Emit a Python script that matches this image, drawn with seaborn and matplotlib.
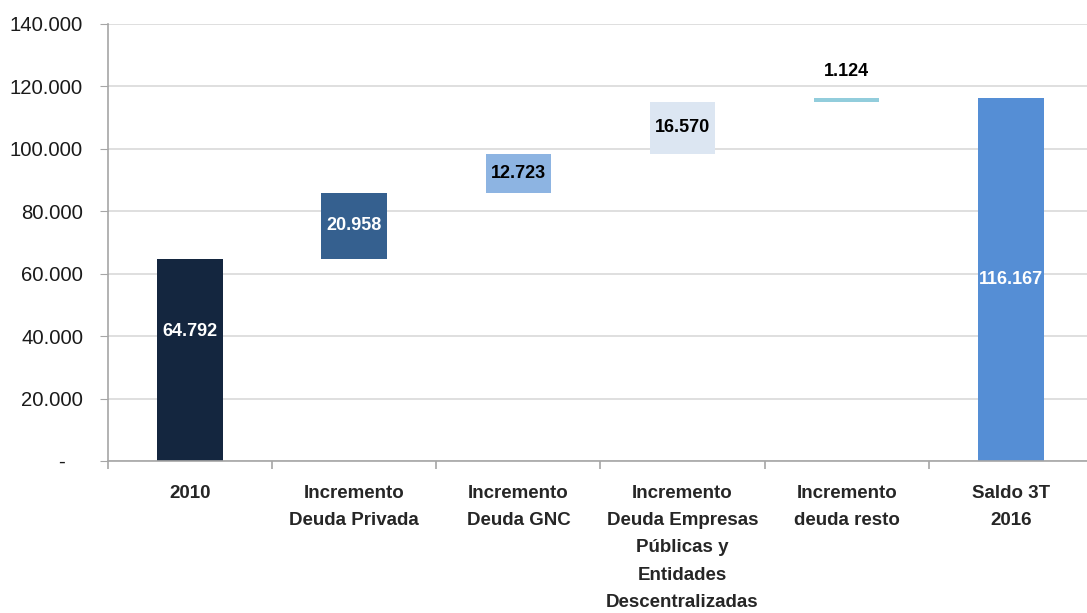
import matplotlib
matplotlib.use("Agg")
import matplotlib.pyplot as plt
import seaborn as sns
import numpy as np
from matplotlib.ticker import FuncFormatter, FixedLocator

# Data
categories = ["2010", "Incremento\nDeuda Privada", "Incremento\nDeuda GNC",
              "Incremento\nDeuda Empresas\nPúblicas y\nEntidades\nDescentralizadas",
              "Incremento\ndeuda resto", "Saldo 3T\n2016"]
values = [64792, 20958, 12723, 16570, 1124, 116167]
is_total = [True, False, False, False, False, True]
colors = ["#14263f", "#35608f", "#8db4e2", "#dce6f2", "#92cddc", "#558ed5"]
label_colors = ["white", "white", "black", "black", "black", "white"]

# Waterfall bottoms
bottoms = []
running = 0
for v, tot in zip(values, is_total):
    if tot:
        bottoms.append(0)
        running = v
    else:
        bottoms.append(running)
        running += v

sns.set_style("white")
plt.rcParams['font.family'] = ['Liberation Sans', 'DejaVu Sans']

fig = plt.figure(figsize=(10.87, 6.13), dpi=100)
ax = fig.add_axes([0.0994, 0.248, 0.906, 0.713])

sns.barplot(x=categories, y=values, hue=categories, palette=colors,
            width=0.4, legend=False, ax=ax, linewidth=0, saturation=1)

# shift the increment bars up to their running base
for cont, b in zip(ax.containers, bottoms):
    for bar in cont:
        bar.set_y(b)

# value labels
def fmt(v):
    return f"{v:,.0f}".replace(",", ".")

for i, (v, b) in enumerate(zip(values, bottoms)):
    if i == 0:
        ax.text(i, b + v * 0.64, fmt(v), ha="center", va="center",
                color=label_colors[i], fontsize=13, fontweight="bold")
    elif v < 5000:
        ax.annotate(fmt(v), (i, b + v), xytext=(0, 19), textcoords="offset points",
                    ha="center", va="center", color=label_colors[i],
                    fontsize=13, fontweight="bold")
    else:
        ax.text(i, b + v / 2, fmt(v), ha="center", va="center",
                color=label_colors[i], fontsize=13, fontweight="bold")

# axes
ax.set_ylim(0, 140000)
ax.set_xlim(-0.5, len(categories) - 0.5)
ax.set_yticks(np.arange(0, 140001, 20000))
ax.yaxis.set_major_formatter(FuncFormatter(lambda y, p: "-   " if y == 0 else fmt(y)))
ax.grid(axis="y", color="#d9d9d9", linewidth=1.2)
ax.set_axisbelow(True)

for s in ["top", "right"]:
    ax.spines[s].set_visible(False)
for s in ["left", "bottom"]:
    ax.spines[s].set_color("#a6a6a6")
    ax.spines[s].set_linewidth(1.2)

ax.tick_params(axis="y", which="major", left=True, length=6, color="#a6a6a6",
               labelsize=14.6, pad=12, labelcolor="#1a1a1a")
ax.set_xticks(range(len(categories)))
ax.set_xticklabels(categories, fontweight="bold", linespacing=1.8, va="top")
ax.tick_params(axis="x", which="major", length=0, pad=17, labelsize=13.5)
ax.xaxis.set_minor_locator(FixedLocator(np.arange(-0.5, len(categories), 1)))
ax.tick_params(axis="x", which="minor", bottom=True, length=6, color="#a6a6a6", width=1.2)

ax.set_xlabel("")
ax.set_ylabel("")

plt.savefig("out.png", dpi=100)
